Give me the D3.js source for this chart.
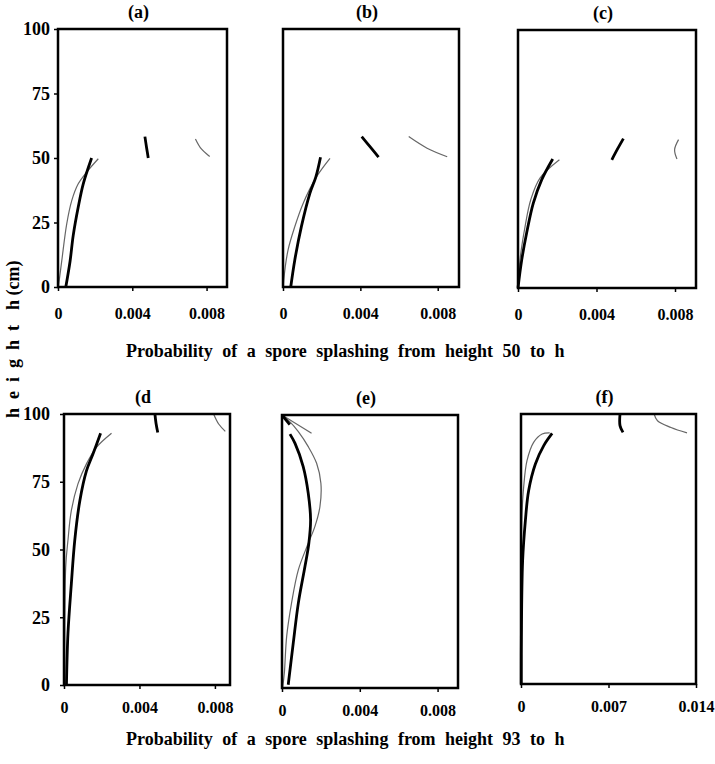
<!DOCTYPE html>
<html>
<head>
<meta charset="utf-8">
<script src="https://cdn.jsdelivr.net/npm/d3@7"></script>
<style>
body { margin: 0; background: #fff; }
text { font-family: "Liberation Serif", "Times New Roman", serif; font-weight: bold; }
</style>
</head>
<body>
<div id="chart"></div>
<script>
// titles and ticks
const panelTitles = ["(a)", "(b)", "(c)", "(d", "(e)", "(f)"];
const yTicks = [0, 25, 50, 75, 100];
const xTicksNarrow = [0, 0.004, 0.008];
const xTicksWide = [0, 0.007, 0.014];
const xTitles = [
	"Probability of a spore splashing from height 50 to h",
	"Probability of a spore splashing from height 93 to h"
];

// [probability, height]
// thick = black curve, thin = grey curve, *Up = the short pieces above the source height
const aThick = [[0.00042, 0], [0.00065, 10], [0.00082, 20], [0.00109, 31], [0.00136, 40], [0.00181, 50]];
const aThin = [[0.00002, 0], [0.0002, 10], [0.00047, 24.5], [0.00074, 33.5], [0.00109, 40], [0.00154, 44.5], [0.00217, 49.7]];
const aThickUp = [[0.00468, 58.3], [0.00477, 54], [0.00486, 50]];
const aThinUp = [[0.0074, 57.4], [0.00772, 53.5], [0.00817, 50.6]];

const bThick = [[0.0004, 0], [0.00061, 10.5], [0.00095, 23.4], [0.00139, 36.3], [0.0017, 42.7], [0.00194, 50.3]];
const bThin = [[0.00002, 0], [0.00004, 2.7], [0.00026, 14.3], [0.00061, 23.4], [0.00104, 32.4], [0.00173, 42.7], [0.00243, 49.9]];
const bThickUp = [[0.00407, 58.3], [0.00452, 54.2], [0.00494, 50.3]];
const bThinUp = [[0.0065, 58.3], [0.00745, 53.8], [0.00849, 50.5]];

const cThick = [[0, 0], [0.00019, 10.9], [0.00044, 21.3], [0.00078, 32.9], [0.00121, 42], [0.00177, 50]];
const cThin = [[0, 0], [0.0001, 10.9], [0.00036, 23.8], [0.00065, 34.2], [0.00112, 42.6], [0.00211, 49.7]];
const cThickUp = [[0.00478, 49.7], [0.00508, 54], [0.00537, 57.9]];
const cThinUp = [[0.0081, 50], [0.00798, 53.6], [0.00818, 57.5]];

const dThick = [[0.00013, 0], [0.00021, 19], [0.00039, 37.4], [0.00057, 53.4], [0.00084, 68], [0.00119, 79], [0.00154, 85.3], [0.00194, 92.9]];
const dThin = [[0.00004, 0], [0.00009, 43.5], [0.00021, 53.4], [0.00039, 64.4], [0.00074, 74.2], [0.00119, 81.6], [0.00172, 87.7], [0.00252, 92.9]];
const dThickUp = [[0.00482, 100], [0.00488, 96.5], [0.00497, 93.2]];
const dThinUp = [[0.00793, 100], [0.0082, 96.3], [0.00855, 93.6]];

const eThick = [[0.00032, 1.2], [0.00058, 16.5], [0.00084, 31.1], [0.00118, 44.5], [0.00138, 53], [0.00147, 61.6], [0.00135, 71.3], [0.00109, 81.1], [0.00067, 89.6], [0.00041, 93]];
const eThin = [[0.00003, 0], [0.00012, 5.5], [0.00024, 18.9], [0.00049, 31.1], [0.00084, 43.3], [0.00135, 53], [0.00169, 59.1], [0.00195, 66.4], [0.002, 75], [0.00178, 82.3], [0.00135, 88.4], [0.00084, 93.9], [0.00041, 97.5], [0.00007, 99.4]];
const eThickUp = [[0, 100], [0.0004, 96.5]];
const eThinUp = [[0, 100], [0.00152, 93.3]];

const fThick = [[0.00002, 0], [0.00003, 17], [0.00013, 45.7], [0.00035, 60.5], [0.00061, 71.6], [0.00115, 81.5], [0.00182, 88.3], [0.00249, 92.8]];
const fThin = [[0.00002, 0], [0.00003, 50], [0.00008, 63], [0.00021, 72.8], [0.00048, 82.7], [0.00101, 89.5], [0.00169, 92.6], [0.0023, 93]];
const fThickUp = [[0.00792, 100], [0.00792, 95.7], [0.00816, 93.2]];
const fThinUp = [[0.01065, 100], [0.01092, 97.5], [0.012, 95], [0.01328, 93]];

// panel boxes (pixels) and x range of each panel
const panels = [
	{ left: 58, right: 227, top: 29, bottom: 287, xMax: 0.0091, ticks: xTicksNarrow, yAxis: true, thick: aThick, thin: aThin, thickUp: aThickUp, thinUp: aThinUp },
	{ left: 283, right: 459, top: 29, bottom: 287, xMax: 0.0091, ticks: xTicksNarrow, yAxis: false, thick: bThick, thin: bThin, thickUp: bThickUp, thinUp: bThinUp },
	{ left: 518, right: 696, top: 30, bottom: 288, xMax: 0.00907, ticks: xTicksNarrow, yAxis: false, thick: cThick, thin: cThin, thickUp: cThickUp, thinUp: cThinUp },
	{ left: 64, right: 230, top: 414, bottom: 685, xMax: 0.0088, ticks: xTicksNarrow, yAxis: true, thick: dThick, thin: dThin, thickUp: dThickUp, thinUp: dThinUp },
	{ left: 282, right: 458, top: 415, bottom: 688, xMax: 0.00905, ticks: xTicksNarrow, yAxis: false, thick: eThick, thin: eThin, thickUp: eThickUp, thinUp: eThinUp },
	{ left: 521, right: 696, top: 414, bottom: 684, xMax: 0.014, ticks: xTicksWide, yAxis: false, thick: fThick, thin: fThin, thickUp: fThickUp, thinUp: fThinUp }
];

const svg = d3.select("#chart")
	.append("svg")
	.attr("width", 715)
	.attr("height", 764);

const fmt = d => d === 0 ? "0" : d3.format(".3f")(d);

panels.forEach(function (p, i) {
	const x = d3.scaleLinear().domain([0, p.xMax]).range([p.left, p.right]);
	const y = d3.scaleLinear().domain([0, 100]).range([p.bottom, p.top]);
	const topRow = i < 3;

	// x axis ticks
	const xa = svg.append("g")
		.attr("transform", `translate(0,${p.bottom})`)
		.call(d3.axisBottom(x).tickValues(p.ticks).tickFormat(fmt).tickSize(4).tickPadding(topRow ? 17 : 13).tickSizeOuter(0));
	xa.select(".domain").remove();
	xa.selectAll("line").attr("stroke-width", 1.5);
	xa.selectAll("text").style("font-size", "16px").attr("fill", "#000");

	// y axis on the left panels only
	if (p.yAxis) {
		const ya = svg.append("g")
			.attr("transform", `translate(${p.left},0)`)
			.call(d3.axisLeft(y).tickValues(yTicks).tickSize(4).tickPadding(topRow ? 4 : 10).tickSizeOuter(0));
		ya.select(".domain").remove();
		ya.selectAll("line").attr("stroke-width", 1.5);
		ya.selectAll("text").style("font-size", "18px").attr("fill", "#000");
	}

	const line = d3.line()
		.x(d => x(d[0]))
		.y(d => y(d[1]))
		.curve(d3.curveCatmullRom);

	// thin grey curves
	[p.thin, p.thinUp].forEach(function (s) {
		svg.append("path")
			.attr("d", line(s))
			.attr("fill", "none")
			.attr("stroke", "#666")
			.attr("stroke-width", 1.2);
	});

	// thick black curves
	[p.thick, p.thickUp].forEach(function (s) {
		svg.append("path")
			.attr("d", line(s))
			.attr("fill", "none")
			.attr("stroke", "#000")
			.attr("stroke-width", 2.8);
	});

	// frame
	svg.append("rect")
		.attr("x", p.left)
		.attr("y", p.top)
		.attr("width", p.right - p.left)
		.attr("height", p.bottom - p.top)
		.attr("fill", "none")
		.attr("stroke", "#000")
		.attr("stroke-width", 2.5);

	// panel title
	svg.append("text")
		.attr("x", (p.left + p.right) / 2 - 4)
		.attr("y", p.top - 11)
		.attr("text-anchor", "middle")
		.style("font-size", "18px")
		.text(panelTitles[i]);
});

// x axis titles
xTitles.forEach(function (t, i) {
	svg.append("text")
		.attr("x", 126)
		.attr("y", i === 0 ? 357 : 745)
		.style("font-size", "18px")
		.style("word-spacing", "5px")
		.text(t);
});

// y axis title, spread out like the original
const yTitle = svg.append("text")
	.attr("transform", "translate(19,418) rotate(-90)")
	.style("font-size", "18px");
yTitle.append("tspan").style("letter-spacing", "9px").text("height");
yTitle.append("tspan").attr("dx", 6).text("h (cm)");
</script>
</body>
</html>
